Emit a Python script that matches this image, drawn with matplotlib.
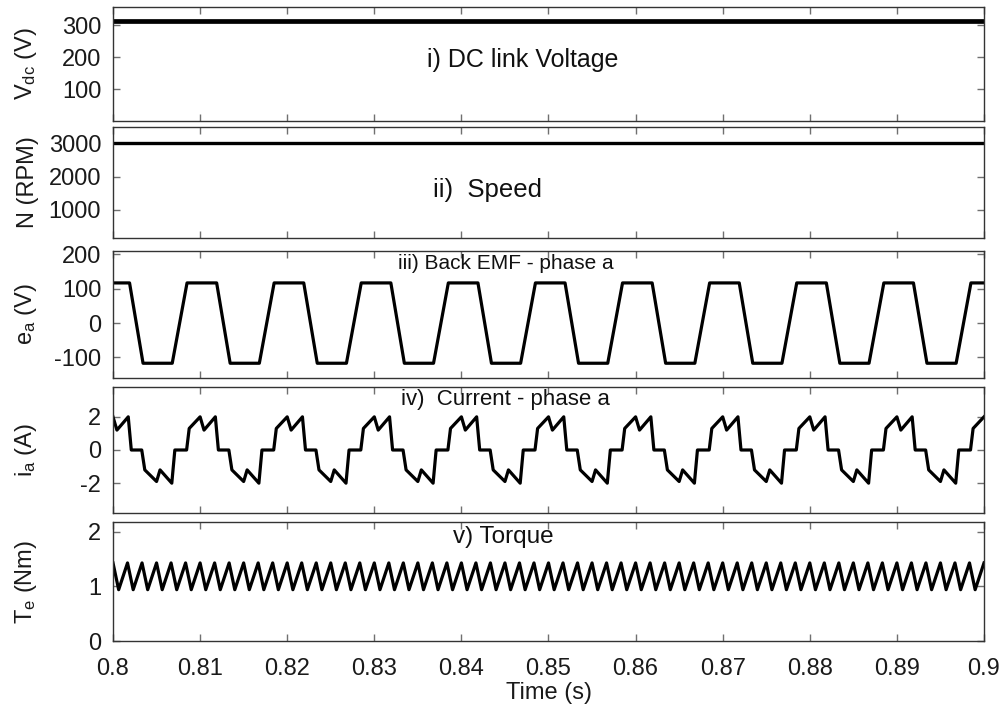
import numpy as np
import matplotlib
matplotlib.use('Agg')
import matplotlib.pyplot as plt
from matplotlib.ticker import FormatStrFormatter

plt.rcParams['font.family'] = ['Liberation Sans', 'DejaVu Sans']
plt.rcParams['mathtext.default'] = 'regular'
plt.rcParams['axes.unicode_minus'] = False

# ---- data ----
T_START = 0.80          # s
T_END = 0.90            # s
vdc_level = 312.0       # V
speed_level = 3000.0    # RPM

# back emf, one electrical period (10 ms), times in ms from period start
emf_period_ms = 10.0
emf_t_ms = [0.0, 1.9, 3.45, 6.8, 8.5]
emf_v = [117, 117, -117, -117, 117]

# phase current, one electrical period
cur_t_ms = [0.0, 0.45, 1.75, 2.1, 3.3, 3.65, 5.0, 5.4, 6.75, 7.1, 8.45, 8.75]
cur_v = [2.0, 1.2, 2.0, 0.0, 0.0, -1.2, -1.9, -1.2, -2.0, 0.0, 0.0, 1.3]

# torque ripple, one ripple period (6 per electrical period)
tq_period_ms = 10.0 / 6
tq_t_ms = [0.0, 0.65]
tq_v = [1.43, 0.94]

titles = ['i) DC link Voltage', 'ii)  Speed', 'iii) Back EMF - phase a',
          'iv)  Current - phase a', 'v) Torque']
title_size = [18, 18.5, 15, 16, 17.5]
ylabels = ['V$_{dc}$ (V)', 'N (RPM)', 'e$_{a}$ (V)', 'i$_{a}$ (A)', 'T$_{e}$ (Nm)']
xticks = np.round(np.arange(0.80, 0.9001, 0.01), 2)


def periodic(t_ms, vals, period_ms):
    n = int(round((T_END - T_START) * 1000 / period_ms))
    tt, vv = [], []
    for k in range(n):
        for a, b in zip(t_ms, vals):
            tt.append(T_START + (k * period_ms + a) / 1000)
            vv.append(b)
    tt.append(T_END)
    vv.append(vals[0])
    return np.array(tt), np.array(vv)


t_emf, v_emf = periodic(emf_t_ms, emf_v, emf_period_ms)
t_cur, v_cur = periodic(cur_t_ms, cur_v, emf_period_ms)
t_tq, v_tq = periodic(tq_t_ms, tq_v, tq_period_ms)

# ---- layout (pixels from top) ----
W, H = 1008, 711
left, right = 113, 984
rows = [(7, 121), (127, 238), (251, 378), (387, 513), (522, 641)]

fig = plt.figure(figsize=(W / 100, H / 100), dpi=100)
axes = []
for top, bot in rows:
    ax = fig.add_axes([left / W, 1 - bot / H, (right - left) / W, (bot - top) / H])
    axes.append(ax)

axes[0].plot([T_START, T_END], [vdc_level, vdc_level], color='k', lw=3.4)
axes[0].set_ylim(0, 357)
axes[0].set_yticks([100, 200, 300])

axes[1].plot([T_START, T_END], [speed_level, speed_level], color='k', lw=2.4)
axes[1].set_ylim(150, 3490)
axes[1].set_yticks([1000, 2000, 3000])

axes[2].plot(t_emf, v_emf, color='k', lw=2.3)
axes[2].set_ylim(-160, 210)
axes[2].set_yticks([-100, 0, 100, 200])

axes[3].plot(t_cur, v_cur, color='k', lw=2.3)
axes[3].set_ylim(-3.8, 3.8)
axes[3].set_yticks([-2, 0, 2])

axes[4].plot(t_tq, v_tq, color='k', lw=2.3)
axes[4].set_ylim(0, 2.18)
axes[4].set_yticks([0, 1, 2])

title_pos = [(0.47, 0.535), (0.43, 0.435), (0.451, 0.903), (0.451, 0.899), (0.448, 0.872)]
for i, ax in enumerate(axes):
    ax.set_xlim(T_START, T_END)
    ax.set_xticks(xticks)
    ax.xaxis.set_major_formatter(FormatStrFormatter('%g'))
    ax.tick_params(direction='in', top=True, right=True, length=5, width=1,
                   color='#707070', labelsize=17, labelcolor='#1a1a1a', pad=8.5)
    ax.tick_params(axis='x', pad=12)
    if i < 4:
        ax.tick_params(labelbottom=False)
    for sp in ax.spines.values():
        sp.set_color('#333333')
        sp.set_linewidth(1.0)
    ax.set_ylabel(ylabels[i], fontsize=17, color='#1a1a1a')
    ax.yaxis.set_label_coords(-0.085, 0.5)
    ax.text(title_pos[i][0], title_pos[i][1], titles[i], transform=ax.transAxes,
            ha='center', va='center', fontsize=title_size[i], color='#111111')

axes[4].set_xlabel('Time (s)', fontsize=17, color='#1a1a1a', labelpad=2)

plt.savefig('out.png', dpi=100)
